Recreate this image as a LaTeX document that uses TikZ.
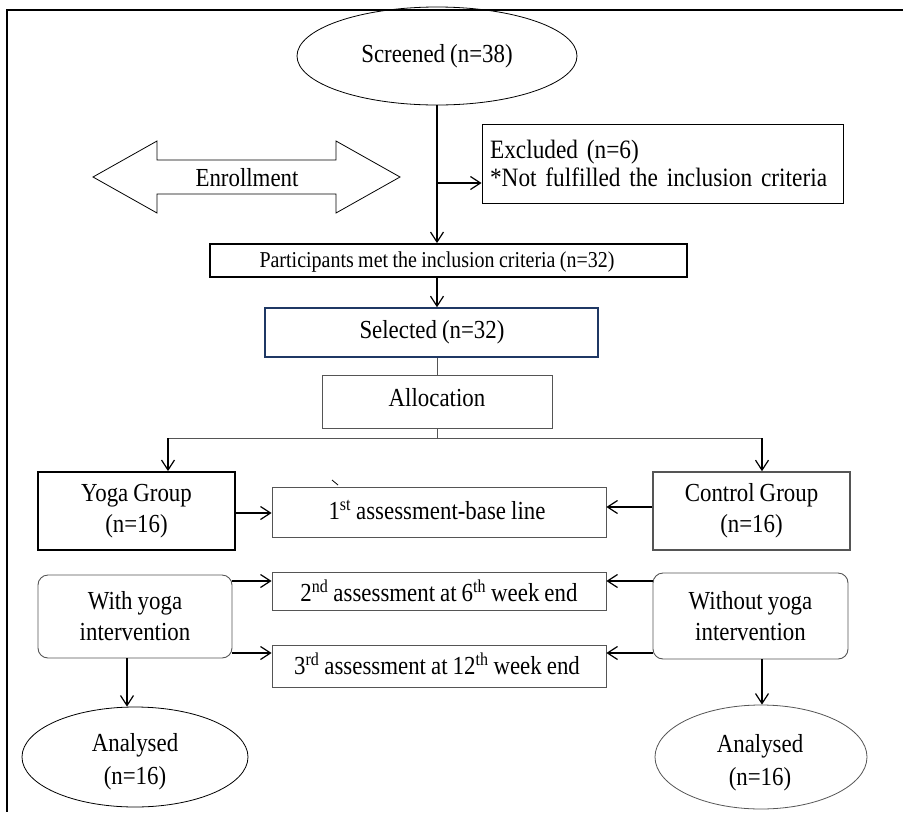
\documentclass[tikz,border=0pt]{standalone}
\usepackage{fontspec}
\setmainfont{Liberation Serif}[FakeStretch=0.88,WordSpace=0.88]
\usetikzlibrary{arrows.meta,shapes.geometric}
\definecolor{navy}{HTML}{1F3864}
\definecolor{gline}{HTML}{555555}
\tikzset{
  arr/.style={line width=1.4pt,-{Straight Barb[length=10pt,width=13pt,line width=1.2pt]}},
  box/.style={draw,line width=0.9pt,inner sep=0pt,align=center,font=\fontsize{26}{31}\selectfont},
  rbox/.style={box,rounded corners=10pt,draw=gline},
  ell/.style={draw,ellipse,line width=0.8pt,inner sep=0pt,align=center,font=\fontsize{26}{33}\selectfont},
  txt/.style={inner sep=0pt,align=center,font=\fontsize{26}{31}\selectfont}
}
\begin{document}
\begin{tikzpicture}[x=1pt,y=-1pt]
\useasboundingbox (0,0) rectangle (903,812);
% frame
\draw[line width=1.2pt] (903,10) -- (7,10) -- (7,812);

% screened
\node[ell,minimum width=280,minimum height=98] (scr) at (437,56) {Screened (n=38)};

% excluded
\node[box,minimum width=361,minimum height=79,align=left,text width=345,font=\fontsize{26.5}{28}\selectfont] (exc) at (662.5,163.5)
  {Excluded (n=6)\\{}*Not fulfilled the inclusion criteria};

% enrollment double arrow
\draw[line width=0.8pt] (93,177) -- (157,141) -- (157,160) -- (336,160) -- (336,141) -- (400,177)
  -- (336,213) -- (336,194) -- (157,194) -- (157,213) -- cycle;
\node[txt] (enr) at (247,178) {Enrollment};

% participants
\node[box,line width=1.8pt,minimum width=477,minimum height=33] (part) at (448.5,260.5) {};
\node[txt,font=\fontsize{22.7}{26}\selectfont] (parttxt) at (437,262) {Participants met the inclusion criteria (n=32)};

% selected
\node[box,draw=navy,line width=1.5pt,minimum width=333,minimum height=49] (sel) at (431.5,332.5) {};
\node[txt] (seltxt) at (432,332) {Selected (n=32)};

% allocation
\node[box,draw=gline,minimum width=230,minimum height=53] (alloc) at (437,401.5) {};
\node[txt] (alloctxt) at (437,398) {Allocation};

% groups
\node[box,line width=1.8pt,minimum width=197,minimum height=78] (yoga) at (136.5,511) {Yoga Group\\(n=16)};
\node[box,draw=gline,line width=1.5pt,minimum width=197,minimum height=78] (ctrl) at (751.5,511) {Control Group\\(n=16)};

% assessments
\node[box,draw=gline,line width=0.8pt,minimum width=334,minimum height=50] (a1) at (439,512) {};
\node[txt] (a1txt) at (437,510) {1\textsuperscript{st} assessment-base line};
\node[box,draw=gline,line width=0.8pt,minimum width=334,minimum height=38] (a2) at (439,591) {2\textsuperscript{nd} assessment at 6\textsuperscript{th} week end};
\node[box,draw=gline,line width=0.8pt,minimum width=334,minimum height=42] (a3) at (439,666) {};
\node[txt] (a3txt) at (437,664) {3\textsuperscript{rd} assessment at 12\textsuperscript{th} week end};

% interventions
\node[rbox,minimum width=194,minimum height=83] (wy) at (135,616.5) {With yoga\\intervention};
\node[rbox,minimum width=195,minimum height=86] (woy) at (750.5,616) {Without yoga\\intervention};

% analysed
\node[ell,minimum width=226,minimum height=100] (an1) at (135,757) {};
\node[txt,font=\fontsize{26}{33}\selectfont] (an1txt) at (135,762) {Analysed\\(n=16)};
\node[ell,draw=gline,minimum width=212,minimum height=104] (an2) at (761,757) {};
\node[txt,font=\fontsize{26}{33}\selectfont] (an2txt) at (760,763) {Analysed\\(n=16)};

% connectors
\coordinate (br) at (437,183);
\coordinate (ax) at (437,0);
\draw[arr] (scr.south) -- (part.north -| scr.south);
\draw[arr] (br) -- (br -| exc.west);
\draw[arr] (part.south -| ax) -- (sel.north -| ax);
\draw[line width=1pt,gline] (sel.south -| ax) -- (alloc.north);
\coordinate (hb) at (437,438);
\coordinate (lx) at (168,438);
\coordinate (rx) at (762,438);
\draw[line width=1pt,gline] (alloc.south) -- (hb);
\draw[line width=1pt,gline] (lx) -- (rx);
\draw[arr] (lx) -- (lx |- yoga.north);
\draw[arr] (rx) -- (rx |- ctrl.north);
\coordinate (y1) at (0,513);
\coordinate (y1r) at (0,507);
\draw[arr] (yoga.east |- y1) -- (a1.west |- y1);
\draw[arr] (ctrl.west |- y1r) -- (a1.east |- y1r);
\coordinate (y2) at (0,581);
\coordinate (y3) at (0,653);
\draw[arr] (wy.east |- y2) -- (a2.west |- y2);
\draw[arr] (wy.east |- y3) -- (a3.west |- y3);
\draw[arr] (woy.west |- y2) -- (a2.east |- y2);
\draw[arr] (woy.west |- y3) -- (a3.east |- y3);
\coordinate (dl) at (127,0);
\coordinate (dr) at (762,0);
\draw[arr] (wy.south -| dl) -- (an1.north -| dl);
\draw[arr] (woy.south -| dr) -- (an2.north -| dr);
% stray tick
\coordinate (t1) at (332,480);
\coordinate (t2) at (338,485);
\draw[line width=0.8pt] (t1) -- (t2);
\end{tikzpicture}
\end{document}
